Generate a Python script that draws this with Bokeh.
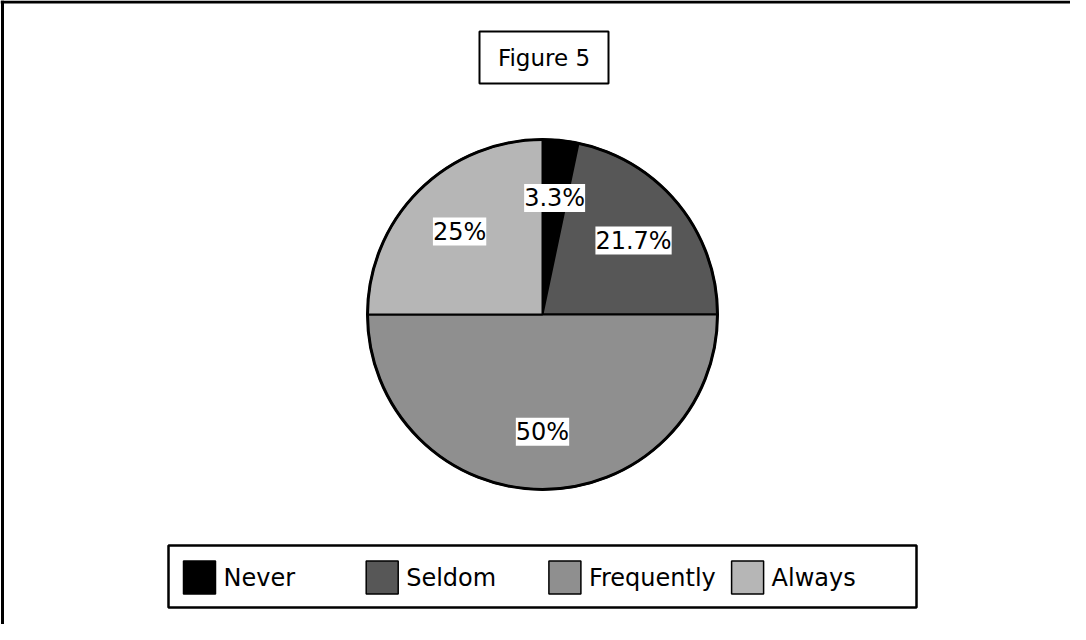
import math
from bokeh.plotting import figure
from bokeh.models import Range1d, Span, ColumnDataSource, LabelSet
from bokeh.embed import file_html
from bokeh.resources import INLINE
from bokeh.core.properties import value

# ---- data ----
categories = ["Never", "Seldom", "Frequently", "Always"]
percents = [3.3, 21.7, 50, 25]
pct_labels = ["3.3%", "21.7%", "50%", "25%"]
colors = ["#000000", "#575757", "#8f8f8f", "#b6b6b6"]
title_text = "Figure 5"

FONT = "DejaVu Sans"
W, H = 1070, 624


def X(px):
    return px - 8


def Y(py):
    return H - (py - 8)


p = figure(width=W, height=H, x_range=Range1d(0, W), y_range=Range1d(0, H),
           output_backend="svg", toolbar_location=None, min_border=0,
           x_axis_location=None, y_axis_location=None)
p.grid.visible = False
p.outline_line_color = None
p.background_fill_color = "white"
p.border_fill_color = "white"

# page border (top + left visible in scan)
p.add_layout(Span(location=Y(9.5), dimension="width", line_color="black", line_width=3))
p.add_layout(Span(location=X(10), dimension="height", line_color="black", line_width=3))

# ---- pie ----
cx, cy, R = X(550), Y(322), 175
total = sum(percents)
starts, ends, mids = [], [], []
cum = 0.0
for v in percents:
    a0 = math.pi / 2 - 2 * math.pi * cum / total
    cum += v
    a1 = math.pi / 2 - 2 * math.pi * cum / total
    starts.append(a0)
    ends.append(a1)
    mids.append((a0 + a1) / 2)

src = ColumnDataSource(dict(cat=categories, start=starts, end=ends, color=colors,
                            lx=[cx + 0.67 * R * math.cos(m) for m in mids],
                            ly=[cy + 0.67 * R * math.sin(m) for m in mids],
                            lab=pct_labels))
p.wedge(x=cx, y=cy, radius=R, start_angle="start", end_angle="end", direction="clock",
        fill_color="color", line_color="black", line_width=2, source=src)
p.circle(x=cx, y=cy, radius=R, fill_color=None, line_color="black", line_width=3)

labels = LabelSet(x="lx", y="ly", text="lab", source=src, text_align="center",
                  text_baseline="middle", text_font=value(FONT), text_font_size="24px",
                  text_color="black", background_fill_color="white")
p.add_layout(labels)

# ---- title box ----
p.rect(x=X(551.5), y=Y(65), width=129, height=52, fill_color="white",
       line_color="black", line_width=2)
p.text(x=[X(551.5)], y=[Y(65)], text=[title_text], text_align="center",
       text_baseline="middle", text_font=value(FONT), text_font_size="23px",
       text_color="black")

# ---- legend ----
p.rect(x=X(550), y=Y(584), width=748, height=62, fill_color="white",
       line_color="black", line_width=2.5)
n = len(categories)
item_x = [X(191) + i * 182.7 for i in range(n)]
leg = ColumnDataSource(dict(sx=[x + 16 for x in item_x], tx=[x + 40 for x in item_x],
                            y=[Y(585)] * n, color=colors, cat=categories))
p.rect(x="sx", y="y", width=32, height=33, fill_color="color", line_color="black",
       line_width=1.5, source=leg)
p.text(x="tx", y="y", text="cat", text_align="left", text_baseline="middle",
       text_font=value(FONT), text_font_size="24px", text_color="black", source=leg)

open("out.html", "w").write(file_html(p, INLINE))
